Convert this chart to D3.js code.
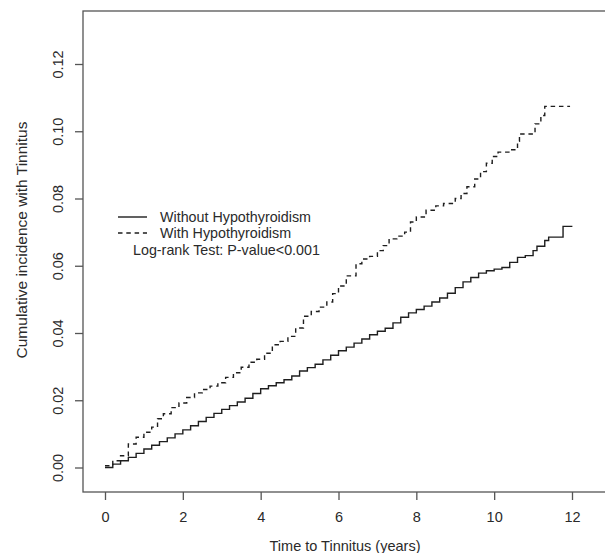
<!DOCTYPE html>
<html>
<head>
<meta charset="utf-8">
<script src="https://cdn.jsdelivr.net/npm/d3@7"></script>
<style>
  html, body { margin: 0; padding: 0; background: #fff; }
  svg { display: block; font-family: "Liberation Sans", Arial, sans-serif; }
</style>
</head>
<body>
<div id="chart"></div>
<script>
// ── Data ──────────────────────────────────────────────────
const xTicks = [0, 2, 4, 6, 8, 10, 12];
const yTicks = [0, 0.02, 0.04, 0.06, 0.08, 0.10, 0.12];

// Without Hypothyroidism: [years, cumulative incidence]
const withoutHypo = [
  [0, 0], [0.2, 0.0010], [0.4, 0.0020], [0.6, 0.0030], [0.8, 0.0042],
  [1.0, 0.0055], [1.2, 0.0066], [1.4, 0.0077], [1.6, 0.0088], [1.8, 0.0100],
  [2.0, 0.0112], [2.2, 0.0124], [2.4, 0.0137], [2.6, 0.0149], [2.8, 0.0161],
  [3.0, 0.0173], [3.2, 0.0184], [3.4, 0.0195], [3.6, 0.0206], [3.8, 0.0220],
  [4.0, 0.0234], [4.2, 0.0243], [4.4, 0.0252], [4.6, 0.0261], [4.8, 0.0272],
  [5.0, 0.0287], [5.2, 0.0297], [5.4, 0.0307], [5.6, 0.0320], [5.8, 0.0334],
  [6.0, 0.0347], [6.2, 0.0358], [6.4, 0.0370], [6.6, 0.0382], [6.8, 0.0395],
  [7.0, 0.0405], [7.2, 0.0414], [7.4, 0.0430], [7.6, 0.0447], [7.8, 0.0460],
  [8.0, 0.0470], [8.2, 0.0480], [8.4, 0.0492], [8.6, 0.0504], [8.8, 0.0518],
  [9.0, 0.0535], [9.2, 0.0552], [9.4, 0.0565], [9.6, 0.0578], [9.8, 0.0585],
  [10.0, 0.0590], [10.2, 0.0595], [10.4, 0.0610], [10.6, 0.0625], [10.8, 0.0630],
  [11.0, 0.0645], [11.1, 0.0658], [11.3, 0.0675], [11.4, 0.0685], [11.77, 0.0717],
  [12.01, 0.0717]
];

// With Hypothyroidism
const withHypo = [
  [0, 0.0005], [0.2, 0.0020], [0.4, 0.0035], [0.6, 0.0070], [0.8, 0.0090],
  [1.0, 0.0105], [1.2, 0.0120], [1.35, 0.0145], [1.5, 0.0160], [1.7, 0.0178],
  [1.9, 0.0192], [2.1, 0.0208], [2.3, 0.0222], [2.5, 0.0232], [2.7, 0.0242],
  [2.9, 0.0252], [3.1, 0.0268], [3.3, 0.0282], [3.5, 0.0298], [3.7, 0.0313],
  [3.9, 0.0322], [4.1, 0.0340], [4.3, 0.0365], [4.5, 0.0375], [4.7, 0.0390],
  [4.9, 0.0415], [5.1, 0.0450], [5.3, 0.0464], [5.5, 0.0477], [5.7, 0.0492],
  [5.85, 0.0517], [6.0, 0.0540], [6.2, 0.0570], [6.45, 0.0606], [6.6, 0.0620],
  [6.8, 0.0628], [7.0, 0.0645], [7.15, 0.0660], [7.3, 0.0680], [7.5, 0.0688],
  [7.7, 0.0700], [7.85, 0.0730], [8.0, 0.0745], [8.25, 0.0765], [8.5, 0.0778],
  [8.7, 0.0785], [9.0, 0.0800], [9.15, 0.0815], [9.3, 0.0835], [9.5, 0.0858],
  [9.65, 0.0880], [9.8, 0.0905], [9.95, 0.0925], [10.1, 0.0938], [10.4, 0.0945],
  [10.6, 0.0970], [10.65, 0.0992], [11.05, 0.1022], [11.2, 0.1047], [11.3, 0.1074],
  [11.95, 0.1074]
];

const seriesNames = ['Without Hypothyroidism', 'With Hypothyroidism'];
const noteText = 'Log-rank Test: P-value<0.001';

// ── Layout ───────────────────────────────────────────────
const width = 605, height = 553;
const box = { left: 83, top: 11, right: 607, bottom: 492 };

const svg = d3.select('#chart').append('svg')
  .attr('width', width)
  .attr('height', height);

const x = d3.scaleLinear().domain([0, 12]).range([105, 572]);
const y = d3.scaleLinear().domain([0, 0.12]).range([467.5, 64]);

const ink = '#1e1e1e';
const axisCol = '#555';
const textCol = '#2a2a2a';

// ── Plot box ─────────────────────────────────────────────
svg.append('rect')
  .attr('x', box.left).attr('y', box.top)
  .attr('width', box.right - box.left)
  .attr('height', box.bottom - box.top)
  .attr('fill', 'none')
  .attr('stroke', axisCol)
  .attr('stroke-width', 1.3);

// ── Axes ─────────────────────────────────────────────────
const axisStyle = sel => sel
  .call(g => g.select('.domain').remove())
  .call(g => g.selectAll('.tick line').attr('stroke', axisCol).attr('stroke-width', 1.3))
  .call(g => g.selectAll('.tick text')
    .attr('fill', textCol)
    .attr('font-family', '"Liberation Sans", Arial, sans-serif')
    .attr('font-size', 14.5));

svg.append('g')
  .attr('transform', `translate(0,${box.bottom})`)
  .call(d3.axisBottom(x).tickValues(xTicks).tickSize(8).tickPadding(12).tickFormat(d3.format('d')))
  .call(axisStyle);

const yAxis = svg.append('g')
  .attr('transform', `translate(${box.left},0)`)
  .call(d3.axisLeft(y).tickValues(yTicks).tickSize(8).tickFormat(d3.format('.2f')))
  .call(axisStyle);

// R style: y tick labels rotated (parallel to axis)
yAxis.selectAll('.tick text')
  .attr('x', null)
  .attr('text-anchor', 'middle')
  .attr('transform', 'translate(-25,0) rotate(-90)')
  .attr('dy', '0.35em');

// Axis titles
svg.append('text')
  .attr('x', (box.left + box.right) / 2)
  .attr('y', 551)
  .attr('text-anchor', 'middle')
  .attr('font-size', 14.5)
  .attr('fill', textCol)
  .text('Time to Tinnitus (years)');

svg.append('text')
  .attr('transform', `translate(22,240) rotate(-90)`)
  .attr('text-anchor', 'middle')
  .attr('dy', '0.35em')
  .attr('font-size', 15.5)
  .attr('fill', textCol)
  .text('Cumulative incidence with Tinnitus');

// ── Curves (step functions) ──────────────────────────────
const line = d3.line()
  .x(d => x(d[0]))
  .y(d => y(d[1]))
  .curve(d3.curveStepAfter);

svg.append('path')
  .datum(withoutHypo)
  .attr('d', line)
  .attr('fill', 'none')
  .attr('stroke', ink)
  .attr('stroke-width', 1.4);

svg.append('path')
  .datum(withHypo)
  .attr('d', line)
  .attr('fill', 'none')
  .attr('stroke', ink)
  .attr('stroke-width', 1.4)
  .attr('stroke-dasharray', '4.5,3.8');

// ── Legend ───────────────────────────────────────────────
const legend = svg.append('g').attr('font-size', 14.3).attr('fill', textCol);
const dashes = [null, '4.5,3.8'];
seriesNames.forEach((name, i) => {
  const ly = 217 + i * 16;
  legend.append('line')
    .attr('x1', 118).attr('x2', 147)
    .attr('y1', ly).attr('y2', ly)
    .attr('stroke', ink)
    .attr('stroke-width', 1.4)
    .attr('stroke-dasharray', dashes[i]);
  legend.append('text')
    .attr('x', 160).attr('y', ly)
    .attr('dy', '0.35em')
    .text(name);
});
legend.append('text')
  .attr('x', 133).attr('y', 250)
  .attr('dy', '0.35em')
  .text(noteText);
</script>
</body>
</html>
